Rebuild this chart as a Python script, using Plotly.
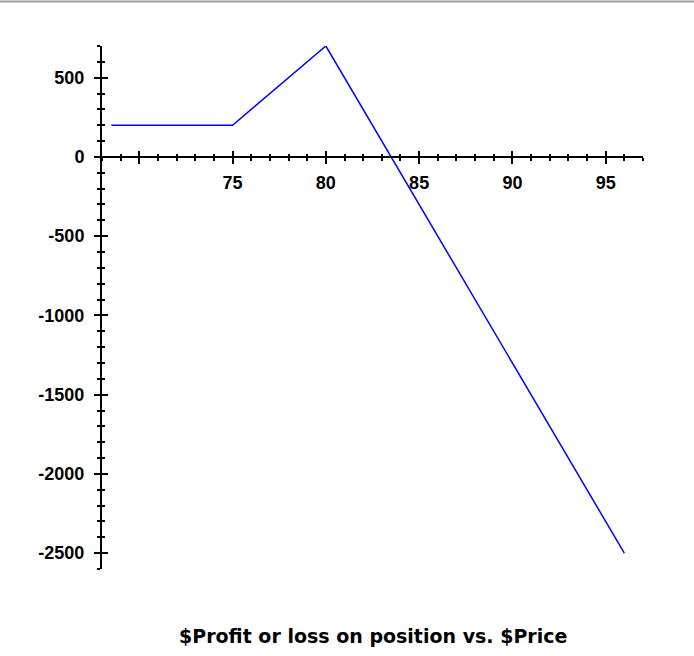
import plotly.graph_objects as go

# Profit / loss of the position at each underlying price
price = [68.5, 75, 80, 96]
profit = [200, 200, 700, -2500]

x_range = [68, 97]
y_range = [-2600, 700]

x_major = [70, 75, 80, 85, 90, 95]
x_labels = ["", "75", "80", "85", "90", "95"]
y_major = [-2500, -2000, -1500, -1000, -500, 0, 500]
y_labels = ["-2500", "-2000", "-1500", "-1000", "-500", "0", "500"]

TITLE = "$Profit or loss on position vs. $Price"

tick_font = dict(family="Liberation Sans", size=18, color="black", weight="bold")
title_font = dict(family="DejaVu Sans", size=19, color="black", weight="bold")

# x axis crosses the y axis at profit = 0
zero_pos = (0 - y_range[0]) / (y_range[1] - y_range[0])

fig = go.Figure()
fig.add_trace(go.Scatter(
    x=price, y=profit, mode="lines",
    line=dict(color="#0000ff", width=1.5),
    showlegend=False, hoverinfo="skip",
))
# invisible copy so the overlaid axes (inner half of the ticks) get drawn
fig.add_trace(go.Scatter(
    x=price, y=profit, mode="lines", xaxis="x2", yaxis="y2",
    line=dict(color="rgba(0,0,0,0)", width=1),
    showlegend=False, hoverinfo="skip",
))

common_x = dict(
    range=x_range, anchor="free", position=zero_pos,
    showgrid=False, zeroline=False,
    tickmode="array", tickvals=x_major,
    tickwidth=2, tickcolor="black", ticklen=6,
)
common_y = dict(
    range=y_range, showgrid=False, zeroline=False,
    tickmode="array", tickvals=y_major,
    tickwidth=2, tickcolor="black", ticklen=6,
)

fig.update_layout(
    width=694, height=656,
    margin=dict(l=102, r=51, t=46, b=87),
    paper_bgcolor="white", plot_bgcolor="white",
    xaxis=dict(
        **common_x, ticks="outside",
        ticktext=x_labels, tickfont=tick_font,
        showline=True, linecolor="black", linewidth=2,
        ticklabelstandoff=3,
        minor=dict(tickmode="linear", tick0=68, dtick=1, ticks="outside",
                   ticklen=3, tickwidth=2, tickcolor="black"),
    ),
    xaxis2=dict(
        **common_x, overlaying="x", ticks="inside", showticklabels=False,
        showline=False,
        minor=dict(tickmode="linear", tick0=68, dtick=1, ticks="inside",
                   ticklen=3, tickwidth=2, tickcolor="black"),
    ),
    yaxis=dict(
        **common_y, ticks="outside",
        ticktext=y_labels, tickfont=tick_font,
        showline=True, linecolor="black", linewidth=2,
        ticklabelstandoff=6,
        minor=dict(tickmode="linear", tick0=0, dtick=100, ticks="outside",
                   ticklen=3, tickwidth=2, tickcolor="black"),
    ),
    yaxis2=dict(
        **common_y, overlaying="y", anchor="x", side="left",
        ticks="inside", showticklabels=False, showline=False,
        minor=dict(tickmode="linear", tick0=0, dtick=100, ticks="inside",
                   ticklen=3, tickwidth=2, tickcolor="black"),
    ),
    annotations=[dict(
        text=TITLE, xref="paper", yref="paper", x=0.5, y=-0.128,
        xanchor="center", yanchor="middle", showarrow=False,
        font=title_font,
    )],
    shapes=[dict(
        type="line", xref="paper", yref="paper",
        x0=-0.2, x1=1.2, y0=1.085, y1=1.085,
        line=dict(color="#a0a0a0", width=2),
    )],
)

# drop the page's default body margin so the figure sits at the window origin
fig.write_html(
    "out.html",
    config={"displayModeBar": False},
    post_script="document.body.style.margin = '0';",
)
